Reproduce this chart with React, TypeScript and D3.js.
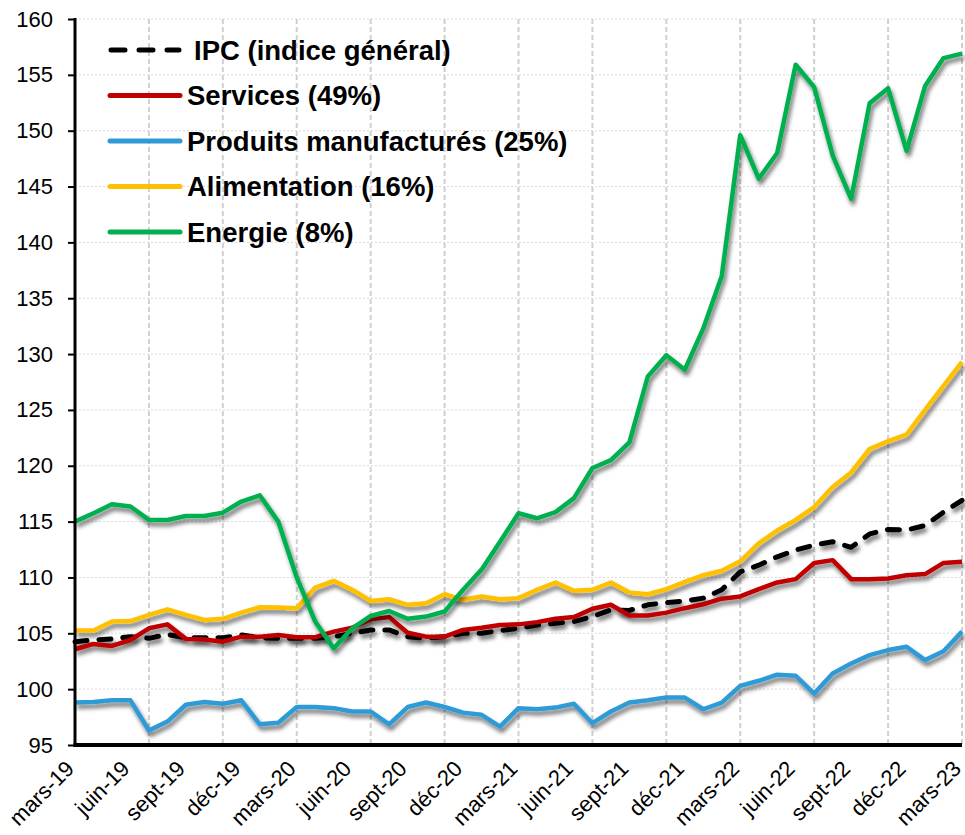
import React, { useRef, useEffect } from "react";
import * as d3 from "d3";

// mars-19 .. mars-23, monthly (49 points)
const tickLabels = [
  "mars-19", "juin-19", "sept-19", "déc-19",
  "mars-20", "juin-20", "sept-20", "déc-20",
  "mars-21", "juin-21", "sept-21", "déc-21",
  "mars-22", "juin-22", "sept-22", "déc-22", "mars-23",
];

const ipc = [
  104.25, 104.4, 104.5, 104.7, 104.55, 104.9, 104.6, 104.6, 104.6, 104.85, 104.6, 104.55,
  104.55, 104.55, 104.7, 105.0, 105.3, 105.3, 104.7, 104.55, 104.7, 105.0, 105.0, 105.25,
  105.45, 105.75, 105.9, 106.05, 106.5, 107.1, 107.05, 107.55, 107.75, 107.9, 108.15, 108.9,
  110.5, 111.1, 111.85, 112.45, 112.9, 113.2, 112.7, 113.9, 114.3, 114.25, 114.65, 115.85, 116.9,
];
const services = [
  103.57, 104.05, 103.87, 104.4, 105.45, 105.8, 104.5, 104.45, 104.25, 104.7, 104.7, 104.85,
  104.65, 104.65, 105.15, 105.5, 106.25, 106.45, 105.05, 104.7, 104.7, 105.3, 105.5, 105.75,
  105.8, 106.0, 106.3, 106.45, 107.2, 107.55, 106.6, 106.6, 106.85, 107.25, 107.6, 108.1,
  108.3, 108.95, 109.55, 109.85, 111.3, 111.55, 109.85, 109.85, 109.9, 110.2, 110.3, 111.3, 111.4,
];
const manufactures = [
  98.8, 98.85, 99.0, 99.0, 96.3, 97.1, 98.6, 98.85, 98.7, 99.0, 96.85, 97.0,
  98.4, 98.4, 98.3, 98.0, 98.0, 96.85, 98.4, 98.8, 98.4, 97.9, 97.7, 96.65,
  98.3, 98.2, 98.35, 98.7, 96.95, 98.0, 98.8, 99.0, 99.25, 99.25, 98.2, 98.8,
  100.3, 100.75, 101.3, 101.2, 99.6, 101.4, 102.3, 103.05, 103.5, 103.8, 102.6, 103.4, 105.15,
];
const alimentation = [
  105.25, 105.25, 106.05, 106.1, 106.65, 107.15, 106.65, 106.2, 106.3, 106.85, 107.33, 107.3,
  107.25, 109.1, 109.7, 108.9, 107.9, 108.05, 107.55, 107.7, 108.5, 108.0, 108.3, 108.05,
  108.15, 108.9, 109.55, 108.8, 108.9, 109.55, 108.65, 108.5, 108.95, 109.6, 110.2, 110.6,
  111.45, 113.05, 114.2, 115.15, 116.3, 118.1, 119.4, 121.5, 122.2, 122.8, 125.0, 127.15, 129.3,
];
const energie = [
  115.0, 115.75, 116.55, 116.35, 115.15, 115.15, 115.5, 115.5, 115.8, 116.8, 117.35, 115.0,
  110.0, 106.05, 103.65, 105.45, 106.55, 107.0, 106.3, 106.5, 106.95, 108.9, 110.7, 113.2,
  115.75, 115.3, 115.85, 117.1, 119.8, 120.5, 122.1, 128.0, 129.9, 128.6, 132.3, 137.0,
  149.6, 145.7, 148.0, 155.9, 153.9, 147.8, 143.9, 152.45, 153.8, 148.2, 154.0, 156.5, 156.9,
];

const seriesNames = [
  "IPC (indice général)",
  "Services (49%)",
  "Produits manufacturés (25%)",
  "Alimentation (16%)",
  "Energie (8%)",
];
const seriesColors = ["#000000", "#C00000", "#2E9BD6", "#FFC000", "#00B050"];
const yTicks = [95, 100, 105, 110, 115, 120, 125, 130, 135, 140, 145, 150, 155, 160];

const W = 965;
const H = 835;
const FONT = "'Liberation Sans', Arial, sans-serif";

export default function App() {
  const svgRef = useRef<SVGSVGElement>(null);

  useEffect(() => {
    const svg = d3.select(svgRef.current);
    svg.selectAll("*").remove();

    const allSeries = [ipc, services, manufactures, alimentation, energie];
    const n = ipc.length;

    const x = d3.scaleLinear().domain([0, n - 1]).range([75, 962]);
    const y = d3.scaleLinear().domain([95, 160]).range([745, 19]);

    // grey shadow under the lines
    const defs = svg.append("defs");
    defs.append("filter")
      .attr("id", "shadow")
      .attr("x", "-10%").attr("y", "-10%")
      .attr("width", "120%").attr("height", "120%")
      .append("feDropShadow")
      .attr("dx", 2).attr("dy", 4)
      .attr("stdDeviation", 2.2)
      .attr("flood-color", "#000")
      .attr("flood-opacity", 0.55);

    // horizontal grid
    svg.append("g")
      .selectAll("line")
      .data(yTicks.filter(t => t > 95))
      .join("line")
      .attr("x1", x(0)).attr("x2", x(n - 1))
      .attr("y1", d => y(d)).attr("y2", d => y(d))
      .attr("stroke", "#d9d9d9")
      .attr("stroke-width", 1)
      .attr("stroke-dasharray", "2,2");

    // vertical grid, every 4 months
    const vGrid = d3.range(4, n, 4);
    svg.append("g")
      .selectAll("line")
      .data(vGrid)
      .join("line")
      .attr("x1", d => x(d)).attr("x2", d => x(d))
      .attr("y1", y(160)).attr("y2", y(95))
      .attr("stroke", "#d0d0d0")
      .attr("stroke-width", 2)
      .attr("stroke-dasharray", "5,3");

    // lines
    const lineGen = d3.line<number>()
      .x((_, i) => x(i))
      .y(d => y(d));

    svg.append("g")
      .selectAll("path")
      .data(allSeries)
      .join("path")
      .attr("d", d => lineGen(d))
      .attr("fill", "none")
      .attr("stroke", (_, i) => seriesColors[i])
      .attr("stroke-width", (_, i) => (i === 0 ? 5 : 4.5))
      .attr("stroke-dasharray", (_, i) => (i === 0 ? "12,12" : null))
      .attr("stroke-linecap", (_, i) => (i === 0 ? "round" : "butt"))
      .attr("stroke-linejoin", "round")
      .style("filter", "url(#shadow)");

    // y axis
    const yAxis = d3.axisLeft(y).tickValues(yTicks).tickSize(7).tickPadding(15).tickFormat(d3.format("d"));
    const gy = svg.append("g").attr("transform", `translate(${x(0)},0)`).call(yAxis);
    gy.select(".domain").remove();
    gy.selectAll(".tick line").attr("stroke", "#000").attr("stroke-width", 2);
    gy.selectAll("text")
      .attr("font-family", FONT)
      .attr("font-size", 22)
      .attr("fill", "#000");
    svg.append("line")
      .attr("x1", x(0)).attr("x2", x(0))
      .attr("y1", y(160) - 1).attr("y2", y(95) + 2)
      .attr("stroke", "#000").attr("stroke-width", 3);

    // x axis line
    svg.append("line")
      .attr("x1", x(0) - 1.5).attr("x2", x(n - 1))
      .attr("y1", y(95)).attr("y2", y(95))
      .attr("stroke", "#000").attr("stroke-width", 4);

    // x labels every 3 months, rotated
    svg.append("g")
      .selectAll("text")
      .data(tickLabels)
      .join("text")
      .attr("transform", (_, i) => `translate(${x(i * 3) + 0.5},${y(95) + 25}) rotate(-45)`)
      .attr("text-anchor", "end")
      .attr("font-family", FONT)
      .attr("font-size", 22)
      .attr("fill", "#000")
      .text(d => d);

    // legend
    const legend = svg.append("g");
    const rowY = (i: number) => 50 + i * 45.5;
    legend.selectAll("line")
      .data(seriesNames)
      .join("line")
      .attr("x1", (_, i) => (i === 0 ? 111 : 110))
      .attr("x2", (_, i) => (i === 0 ? 179 : 180))
      .attr("y1", (_, i) => rowY(i)).attr("y2", (_, i) => rowY(i))
      .attr("stroke", (_, i) => seriesColors[i])
      .attr("stroke-width", 5)
      .attr("stroke-linecap", "round")
      .attr("stroke-dasharray", (_, i) => (i === 0 ? "14,14" : null));
    legend.selectAll("text")
      .data(seriesNames)
      .join("text")
      .attr("x", (_, i) => (i === 0 ? 194 : 187))
      .attr("y", (_, i) => rowY(i))
      .attr("dy", "0.35em")
      .attr("font-family", FONT)
      .attr("font-weight", "bold")
      .attr("font-size", 27.5)
      .attr("fill", "#000")
      .text(d => d);
  }, []);

  return (
    <div style={{ position: "absolute", left: 0, top: 0, width: W, height: H, background: "#fff" }}>
      <svg ref={svgRef} width={W} height={H} style={{ display: "block" }} />
    </div>
  );
}
